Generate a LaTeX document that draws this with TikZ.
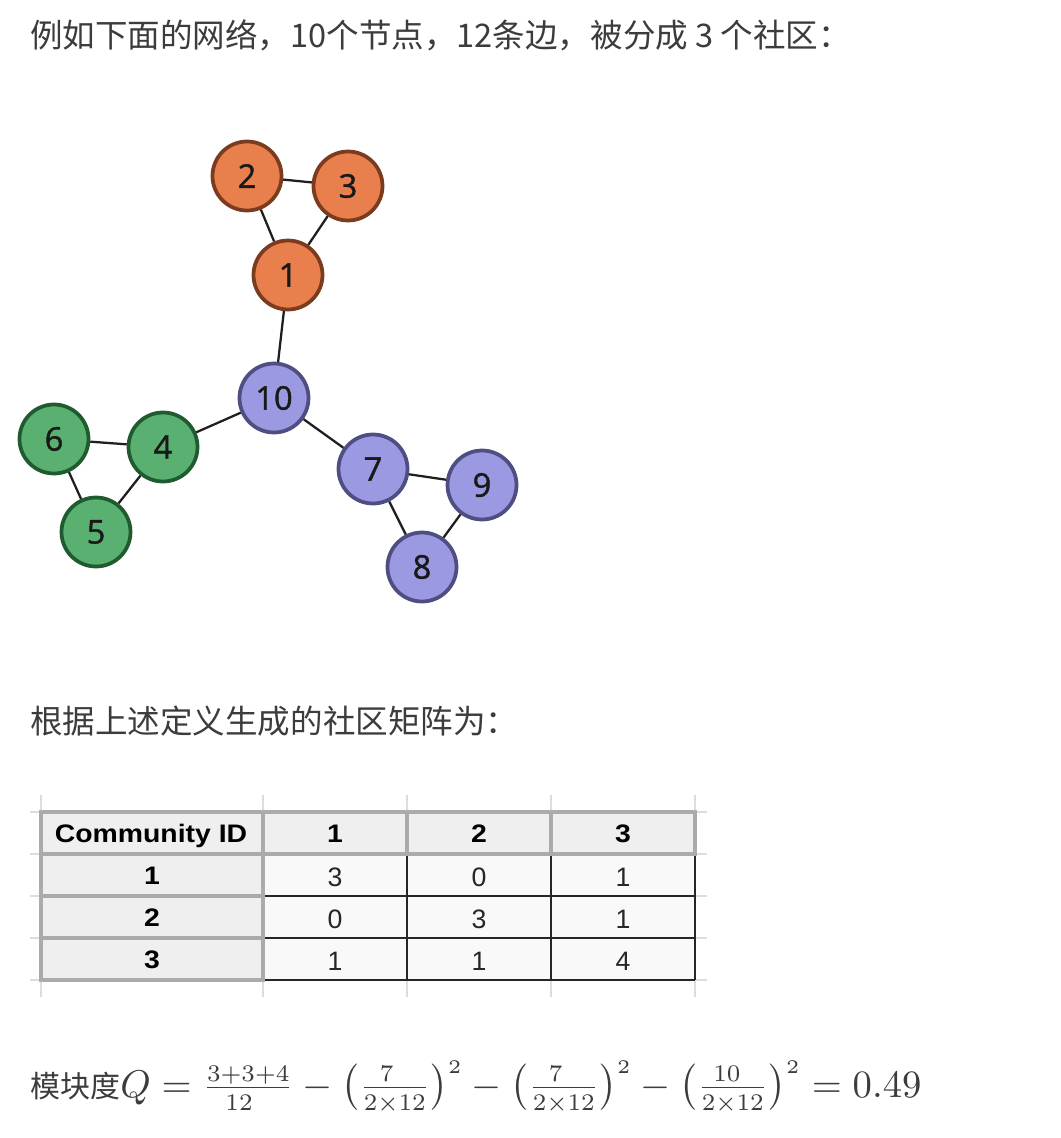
\documentclass[tikz,border=0pt]{standalone}
\usepackage{graphicx}
\usepackage{amsmath}
\usepackage{fontspec}
\newfontfamily\cjk{Noto Sans CJK SC}
\newfontfamily\tabfont{Liberation Sans}
\newfontfamily\tabbold{Liberation Sans}[FakeStretch=1.12]
\newfontfamily\nodefont{Open Sans}[FakeBold=1.2]
\newcommand\fsz[1]{\scalebox{0.88}{$\scriptstyle #1$}}
\definecolor{txt}{HTML}{3C3C3C}
\definecolor{orfill}{HTML}{EA7F4E}
\definecolor{ordraw}{HTML}{7B3B1E}
\definecolor{grfill}{HTML}{5AB071}
\definecolor{grdraw}{HTML}{1F5B2F}
\definecolor{pufill}{HTML}{9A99E1}
\definecolor{pudraw}{HTML}{4F4E82}
\definecolor{guide}{HTML}{DDDDDD}
\definecolor{hdrline}{HTML}{ABABAB}
\definecolor{hdrfill}{HTML}{EFEFEF}
\definecolor{cellfill}{HTML}{F9F9F9}
\tikzset{
  vert/.style={circle, minimum size=51.75pt, inner sep=0pt, line width=2.8pt,
    font=\nodefont\fontsize{24.5pt}{24.5pt}\selectfont, text=black!90},
  comA/.style={vert, fill=orfill, draw=ordraw},
  comB/.style={vert, fill=grfill, draw=grdraw},
  comC/.style={vert, fill=pufill, draw=pudraw},
  edge/.style={line width=1.7pt, draw=black!88},
  body/.style={font=\cjk\fontsize{24.4pt}{29pt}\selectfont, text=txt, inner sep=0pt, anchor=base west},
  hdr/.style={font=\tabbold\bfseries\fontsize{19pt}{19pt}\selectfont, text=black, inner sep=0pt, anchor=base},
  cell/.style={font=\tabfont\fontsize{20pt}{20pt}\selectfont, text=black!85, inner sep=0pt, anchor=base},
  guideline/.style={draw=guide, line width=2.2pt},
  grayline/.style={draw=hdrline, line width=2.4pt},
  blackline/.style={draw=black!85, line width=1.5pt}
}
\begin{document}
\begin{tikzpicture}[x=0.75pt,y=-0.75pt]
\useasboundingbox (0,0) rectangle (1060,1138);
\fill[white] (0,0) rectangle (1060,1138);

% texts
\node[body] (t1) at (30,48) {例如下面的网络，10个节点，12条边，被分成 3 个社区：};
\node[body] (t2) at (30,733) {根据上述定义生成的社区矩阵为：};

% graph nodes
\node[comA] (n2) at (247,176) {2};
\node[comA] (n3) at (348,186) {3};
\node[comA] (n1) at (288,275) {1};
\node[comC] (n10) at (274,398) {10};
\node[comB] (n6) at (54,439) {6};
\node[comB] (n4) at (163,447) {4};
\node[comB] (n5) at (96,532) {5};
\node[comC] (n7) at (373,469) {7};
\node[comC] (n9) at (482,485) {9};
\node[comC] (n8) at (422,567) {8};

% edges
\draw[edge] (n2) -- (n3);
\draw[edge] (n2) -- (n1);
\draw[edge] (n3) -- (n1);
\draw[edge] (n1) -- (n10);
\draw[edge] (n10) -- (n4);
\draw[edge] (n4) -- (n6);
\draw[edge] (n6) -- (n5);
\draw[edge] (n5) -- (n4);
\draw[edge] (n10) -- (n7);
\draw[edge] (n7) -- (n9);
\draw[edge] (n7) -- (n8);
\draw[edge] (n8) -- (n9);

% table guides
\foreach \x in {41,263,407,551,695} \draw[guideline] (\x,795) -- (\x,997);
\foreach \y in {812,854,896,938,980} \draw[guideline] (30,\y) -- (707,\y);
% fills
\fill[hdrfill] (41,812) rectangle (695,854);
\fill[hdrfill] (41,854) rectangle (263,980);
\fill[cellfill] (263,854) rectangle (695,980);
% black data borders
\foreach \y in {896,938,980} \draw[blackline] (263,\y) -- (695,\y);
\foreach \x in {407,551,695} \draw[blackline] (\x,854) -- (\x,980);
% gray header borders
\draw[grayline] (41,812) rectangle (695,854);
\foreach \x in {263,407,551} \draw[grayline] (\x,812) -- (\x,854);
\draw[grayline] (41,854) -- (41,980) -- (263,980) -- (263,854);
\foreach \y in {896,938} \draw[grayline] (41,\y) -- (263,\y);

% table text
\node[hdr] (hc) at (151,842) {Community ID};
\node[hdr] (h1) at (335,842) {1};
\node[hdr] (h2) at (479,842) {2};
\node[hdr] (h3) at (623,842) {3};
\node[hdr] (r1) at (152,884) {1};
\node[hdr] (r2) at (152,926) {2};
\node[hdr] (r3) at (152,968) {3};
\node[cell] (c11) at (335,886) {3};
\node[cell] (c12) at (479,886) {0};
\node[cell] (c13) at (623,886) {1};
\node[cell] (c21) at (335,928) {0};
\node[cell] (c22) at (479,928) {3};
\node[cell] (c23) at (623,928) {1};
\node[cell] (c31) at (335,970) {1};
\node[cell] (c32) at (479,970) {1};
\node[cell] (c33) at (623,970) {4};

% formula
\node[inner sep=0pt, anchor=base west, text=txt] (formula) at (30,1097)
  {{\cjk\fontsize{22.5pt}{27pt}\selectfont 模块度}\scalebox{2.9}{%
   $Q = \frac{\fsz{3+3+4}}{\fsz{12}} - \bigl(\frac{\fsz{7}}{\fsz{2\times 12}}\bigr)^{\scriptscriptstyle 2}
        - \bigl(\frac{\fsz{7}}{\fsz{2\times 12}}\bigr)^{\scriptscriptstyle 2}
        - \bigl(\frac{\fsz{10}}{\fsz{2\times 12}}\bigr)^{\scriptscriptstyle 2} = 0.49$}};
\end{tikzpicture}
\end{document}
